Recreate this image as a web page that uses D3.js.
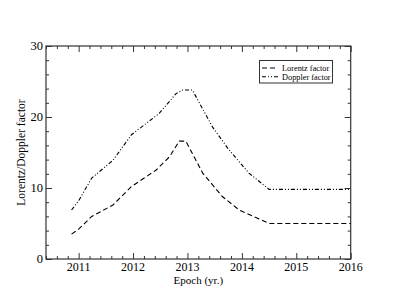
<!DOCTYPE html>
<html><head><meta charset="utf-8">
<script src="https://cdn.jsdelivr.net/npm/d3@7"></script>
<style>body{margin:0;background:#fff}svg{display:block}text{font-family:"Liberation Serif","Times New Roman",serif;fill:#000}</style>
</head><body><svg id="c" width="395" height="305"></svg>
<script>
const lorentzX = [2010.87, 2011.0, 2011.24, 2011.63, 2011.97, 2012.42, 2012.67, 2012.85, 2012.97, 2013.28, 2013.64, 2013.95, 2014.5, 2016.0];
const lorentzY = [3.5, 4.2, 6.0, 7.6, 10.2, 12.5, 14.4, 16.6, 16.6, 12.1, 8.8, 6.9, 5.0, 5.0];
const dopplerX = [2010.87, 2011.0, 2011.24, 2011.63, 2011.97, 2012.48, 2012.79, 2012.91, 2013.09, 2013.46, 2013.76, 2014.13, 2014.5, 2016.0];
const dopplerY = [6.9, 8.2, 11.4, 13.9, 17.5, 20.5, 23.3, 23.8, 23.8, 18.6, 15.4, 12.1, 9.8, 9.8];
const xTicks = [2011, 2012, 2013, 2014, 2015, 2016];
const yTicks = [0, 10, 20, 30];
const seriesNames = ["Lorentz factor", "Doppler factor"];

const L = 46, R = 350.7, T = 46, B = 259;
const svg = d3.select("#c");
const x = d3.scaleLinear().domain([2010.4, 2016]).range([L, R]);
const y = d3.scaleLinear().domain([0, 30]).range([B, T]);
const xMinor = d3.range(2010.4, 2016.001, 0.2).map(v => +v.toFixed(1)).filter(v => !xTicks.includes(v));
const yMinor = d3.range(0, 30.001, 2).filter(v => !yTicks.includes(v));

function ticks(sel, axis, tv, size) {
  sel.call(axis.tickValues(tv).tickSize(size).tickFormat(""));
  sel.select(".domain").remove();
  sel.selectAll("line").attr("stroke", "#333").attr("stroke-width", 1);
}
// inward ticks on all four sides
ticks(svg.append("g").attr("transform", `translate(0,${B})`), d3.axisTop(x), xTicks, 6);
ticks(svg.append("g").attr("transform", `translate(0,${B})`), d3.axisTop(x), xMinor, 3);
ticks(svg.append("g").attr("transform", `translate(0,${T})`), d3.axisBottom(x), xTicks, 6);
ticks(svg.append("g").attr("transform", `translate(0,${T})`), d3.axisBottom(x), xMinor, 3);
ticks(svg.append("g").attr("transform", `translate(${L},0)`), d3.axisRight(y), yTicks, 6);
ticks(svg.append("g").attr("transform", `translate(${L},0)`), d3.axisRight(y), yMinor, 3);
ticks(svg.append("g").attr("transform", `translate(${R},0)`), d3.axisLeft(y), yTicks, 6);
ticks(svg.append("g").attr("transform", `translate(${R},0)`), d3.axisLeft(y), yMinor, 3);

svg.append("rect").attr("x", L).attr("y", T).attr("width", R - L).attr("height", B - T)
  .attr("fill", "none").attr("stroke", "#333").attr("stroke-width", 1.2);

// tick labels
svg.append("g").selectAll("text").data(xTicks).join("text")
  .attr("x", d => x(d)).attr("y", B + 11.5).attr("text-anchor", "middle")
  .attr("font-size", 12).text(d => d);
svg.append("g").selectAll("text").data(yTicks).join("text")
  .attr("x", L - 3).attr("y", d => y(d) + 4).attr("text-anchor", "end")
  .attr("font-size", 12.5).text(d => d);

svg.append("text").attr("x", (L + R) / 2).attr("y", B + 24.5).attr("text-anchor", "middle")
  .attr("font-size", 11).text("Epoch (yr.)");
svg.append("text").attr("transform", `translate(25,${(T + B) / 2}) rotate(-90)`)
  .attr("text-anchor", "middle").attr("font-size", 11.5).text("Lorentz/Doppler factor");

const line = d3.line().x(d => x(d[0])).y(d => y(d[1]));
const dashes = ["5,3", "4,2,1,2,1,2"];
const data = [d3.zip(lorentzX, lorentzY), d3.zip(dopplerX, dopplerY)];
data.forEach((d, i) => {
  svg.append("path").datum(d).attr("d", line).attr("fill", "none")
    .attr("stroke", "#000").attr("stroke-width", 1.1).attr("stroke-dasharray", dashes[i]);
});

// legend
svg.append("rect").attr("x", 259.5).attr("y", 60.5).attr("width", 73).attr("height", 22.5)
  .attr("fill", "#fff").attr("stroke", "#333").attr("stroke-width", 1);
seriesNames.forEach((n, i) => {
  const ly = 68 + i * 8.7;
  svg.append("line").attr("x1", 262).attr("x2", 278).attr("y1", ly).attr("y2", ly)
    .attr("stroke", "#000").attr("stroke-width", 1.1).attr("stroke-dasharray", dashes[i]);
  svg.append("text").attr("x", 282).attr("y", ly + 3).attr("font-size", 8.3).text(n);
});
</script></body></html>
